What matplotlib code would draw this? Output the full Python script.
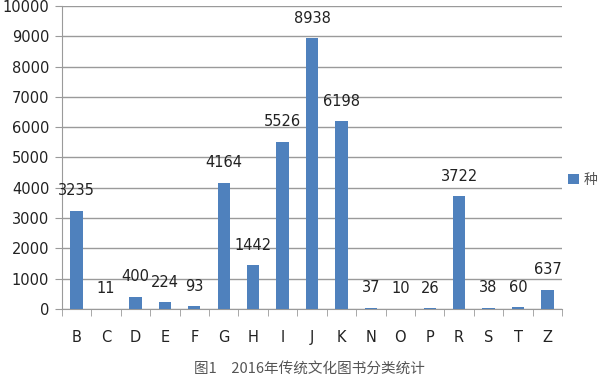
import matplotlib.pyplot as plt
import numpy as np

plt.rcParams['font.family'] = ['DejaVu Sans', 'Noto Sans CJK SC']

# data
categories = ['B', 'C', 'D', 'E', 'F', 'G', 'H', 'I', 'J', 'K',
              'N', 'O', 'P', 'R', 'S', 'T', 'Z']
values = [3235, 11, 400, 224, 93, 4164, 1442, 5526, 8938, 6198,
          37, 10, 26, 3722, 38, 60, 637]
series_name = '种'
caption = '图1　2016年传统文化图书分类统计'

bar_color = '#4F81BD'
grid_color = '#9a9a9a'

fig = plt.figure(figsize=(6, 3.79), dpi=100)
ax = fig.add_axes([0.103, 0.185, 0.834, 0.799])

x = np.arange(len(categories))
bars = ax.bar(x, values, width=0.42, color=bar_color, zorder=3, label=series_name)

for xi, v in zip(x, values):
    ax.annotate(str(v), (xi, v), xytext=(0, 9), textcoords='offset points',
                ha='center', va='bottom', fontsize=10.5, color='#222222')

ax.set_xlim(-0.5, len(categories) - 0.5)
ax.set_ylim(0, 10000)
ax.set_yticks(np.arange(0, 10001, 1000))
ax.set_xticks(x)
ax.set_xticklabels(categories)
ax.set_xticks(np.arange(-0.5, len(categories), 1), minor=True)
ax.tick_params(axis='x', which='major', length=0, pad=15, labelsize=10.5, labelcolor='#222222')
ax.tick_params(axis='x', which='minor', length=5, color=grid_color, direction='out')
ax.tick_params(axis='y', length=5, color=grid_color, labelsize=10.5, labelcolor='#222222', pad=4)

ax.yaxis.grid(True, color=grid_color, linewidth=1, zorder=0)
for s in ['top', 'right']:
    ax.spines[s].set_visible(False)
for s in ['left', 'bottom']:
    ax.spines[s].set_color(grid_color)

leg = fig.legend(loc='center left', bbox_to_anchor=(0.947, 0.525), frameon=False,
                 handlelength=0.75, handleheight=0.75, handletextpad=0.35,
                 borderaxespad=0, borderpad=0,
                 prop={'family': ['Noto Sans CJK SC'], 'size': 10})
for t in leg.get_texts():
    t.set_color('#555555')

fig.text(0.515, 0.028, caption, ha='center', va='center', fontsize=10.5,
         color='#555555', family=['Noto Sans CJK SC', 'DejaVu Sans'])

fig.savefig('out.png', dpi=100)
